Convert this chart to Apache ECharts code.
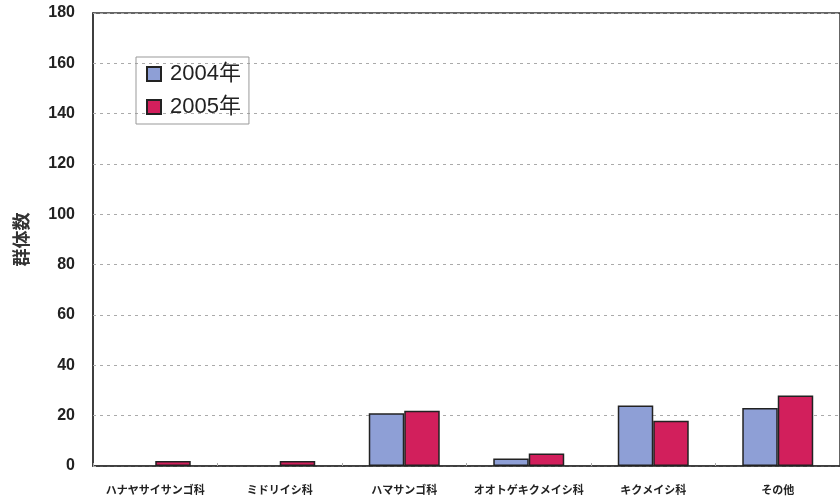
<!DOCTYPE html>
<html><head><meta charset="utf-8">
<script src="https://cdn.jsdelivr.net/npm/echarts@6/dist/echarts.min.js"></script>
<style>html,body{margin:0;padding:0;background:#fff}#c{width:840px;height:503px}</style>
</head><body><div id="c"></div>
<script>
const categories = ['ハナヤサイサンゴ科','ミドリイシ科','ハマサンゴ科','オオトゲキクメイシ科','キクメイシ科','その他'];
const series2004 = [0, 0, 21, 3, 24, 23];
const series2005 = [2, 2, 22, 5, 18, 28];
const seriesNames = ['2004年','2005年'];
const yTicks = {min: 0, max: 180, interval: 20};

const hideZero = arr => arr.map(v => v === 0 ? '-' : v);

const chart = echarts.init(document.getElementById('c'), null, {renderer:'canvas'});
chart.setOption({
  animation: false,
  backgroundColor: '#fff',
  grid: {left: 93, right: -9, top: 13, bottom: 37, show: true, borderColor: '#333', borderWidth: 1.5, backgroundColor: 'transparent'},
  legend: {
    orient: 'vertical', left: 136, top: 57,
    padding: [6, 8, 6, 10], itemGap: 11,
    borderColor: '#999', borderWidth: 1,
    itemWidth: 14, itemHeight: 14, icon: 'rect',
    textStyle: {fontSize: 22, color: '#222', padding: [0, 0, 0, 4], fontFamily: 'Liberation Sans, Noto Sans CJK JP, sans-serif'},
    data: seriesNames
  },
  xAxis: {
    type: 'category', data: categories,
    axisLine: {lineStyle: {color: '#333', width: 1.5}},
    axisTick: {show: true, inside: true, length: 3, lineStyle: {color: '#aaa'}},
    axisLabel: {fontSize: 11, fontWeight: 'bold', color: '#222', margin: 18, fontFamily: 'Noto Sans CJK JP, sans-serif', interval: 0}
  },
  yAxis: {
    type: 'value', min: yTicks.min, max: yTicks.max, interval: yTicks.interval,
    name: '群体数', nameLocation: 'middle', nameRotate: 90, nameGap: 63,
    nameTextStyle: {fontSize: 18, fontWeight: 'bold', color: '#333', fontFamily: 'Noto Sans CJK JP, sans-serif'},
    axisLine: {show: true, lineStyle: {color: '#333', width: 1.5}},
    axisTick: {show: true, inside: true, length: 3, lineStyle: {color: '#aaa'}},
    axisLabel: {fontSize: 16, fontWeight: 'bold', color: '#222', margin: 18, fontFamily: 'Liberation Sans, Arial, sans-serif'},
    splitLine: {show: true, lineStyle: {color: '#aaa', type: [3, 4], width: 1}}
  },
  series: [
    {name: seriesNames[0], type: 'bar', data: hideZero(series2004), barWidth: '28.5%', barGap: '0%',
     itemStyle: {color: '#8e9fd6', borderColor: '#222', borderWidth: 1.5}},
    {name: seriesNames[1], type: 'bar', data: hideZero(series2005), barWidth: '28.5%',
     itemStyle: {color: '#d21f5c', borderColor: '#222', borderWidth: 1.5}}
  ]
});
</script></body></html>
